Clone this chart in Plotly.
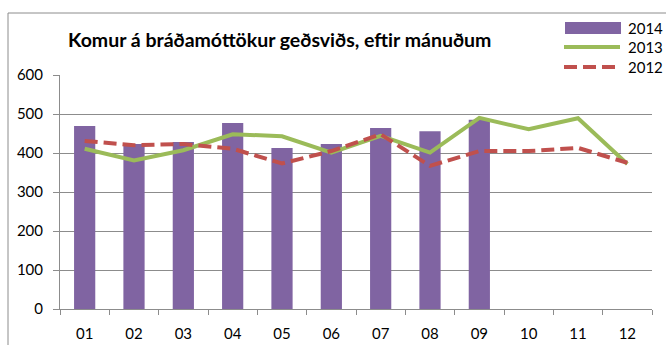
import plotly.graph_objects as go

# Monthly visits to the psychiatric emergency units
months = ["01", "02", "03", "04", "05", "06", "07", "08", "09", "10", "11", "12"]
visits_2014 = [469, 423, 428, 477, 413, 423, 464, 456, 485, None, None, None]
visits_2013 = [411, 381, 407, 448, 443, 401, 444, 401, 490, 461, 489, 372]
visits_2012 = [431, 420, 423, 411, 373, 405, 448, 367, 405, 405, 413, 375]

y_ticks = [0, 100, 200, 300, 400, 500, 600]
title_text = "Komur á bráðamóttökur geðsviðs, eftir mánuðum"

PURPLE = "#8064A2"
GREEN = "#9BBB59"
RED = "#C0504D"
GRID = "#8C8C8C"
FONT = "Lato"

W, H = 666, 345
L, R, T, B = 60, 14, 75, 36
PW, PH = W - L - R, H - T - B


def px_x(x):
    return (x - L) / PW


def px_y(y):
    return 1 + (T - y) / PH


fig = go.Figure()
fig.add_trace(go.Bar(x=months, y=visits_2014, name="2014", marker_color=PURPLE,
                     marker_line_width=0, width=0.43))
fig.add_trace(go.Scatter(x=months, y=visits_2013, name="2013", mode="lines",
                         line=dict(color=GREEN, width=4)))
fig.add_trace(go.Scatter(x=months, y=visits_2012, name="2012", mode="lines",
                         line=dict(color=RED, width=4, dash="13px,6px")))

shapes = [
    # chart frame (left and top edges)
    dict(type="line", xref="paper", yref="paper", x0=px_x(8), x1=px_x(8),
         y0=px_y(13), y1=px_y(360), line=dict(color=GRID, width=1)),
    dict(type="line", xref="paper", yref="paper", x0=px_x(8), x1=px_x(680),
         y0=px_y(13), y1=px_y(13), line=dict(color=GRID, width=1)),
    # legend keys
    dict(type="rect", xref="paper", yref="paper", x0=px_x(565), x1=px_x(621),
         y0=px_y(34), y1=px_y(22), fillcolor=PURPLE, line_width=0),
    dict(type="line", xref="paper", yref="paper", x0=px_x(564), x1=px_x(620),
         y0=px_y(47), y1=px_y(47), line=dict(color=GREEN, width=4)),
    dict(type="line", xref="paper", yref="paper", x0=px_x(564), x1=px_x(620),
         y0=px_y(67), y1=px_y(67), line=dict(color=RED, width=4, dash="13px,6px")),
]

annotations = [
    dict(text=t, xref="paper", yref="paper", x=px_x(626), y=px_y(yy),
         xanchor="left", yanchor="middle", showarrow=False,
         font=dict(family=FONT, size=15, color="#000000"))
    for t, yy in (("2014", 28), ("2013", 47), ("2012", 67))
]
annotations.append(dict(text="<b>" + title_text + "</b>", xref="paper", yref="paper",
                        x=px_x(66), y=px_y(39), xanchor="left", yanchor="middle",
                        showarrow=False,
                        font=dict(family=FONT, size=19.5, color="#000000")))

fig.update_layout(
    width=W, height=H,
    margin=dict(l=L, r=R, t=T, b=B, autoexpand=False),
    paper_bgcolor="white", plot_bgcolor="white",
    showlegend=False,
    bargap=0.57,
    font=dict(family=FONT, size=15, color="#000000"),
    shapes=shapes,
    annotations=annotations,
)
fig.update_xaxes(
    type="category", categoryorder="array", categoryarray=months,
    range=[-0.5, 11.5], showgrid=False, showline=True, linecolor=GRID, linewidth=1,
    ticks="outside", tickson="boundaries", ticklen=5, tickcolor=GRID,
    ticklabelstandoff=11, automargin=False,
    tickfont=dict(family=FONT, size=15, color="#000000"),
)
fig.update_yaxes(
    range=[0, 600], tickvals=y_ticks, showgrid=True, gridcolor=GRID, gridwidth=1,
    showline=True, linecolor=GRID, linewidth=1, zeroline=False,
    ticks="outside", ticklen=6, tickcolor=GRID,
    ticklabelstandoff=7, automargin=False,
    tickfont=dict(family=FONT, size=15, color="#000000"),
)

fig.write_html("out.html")
